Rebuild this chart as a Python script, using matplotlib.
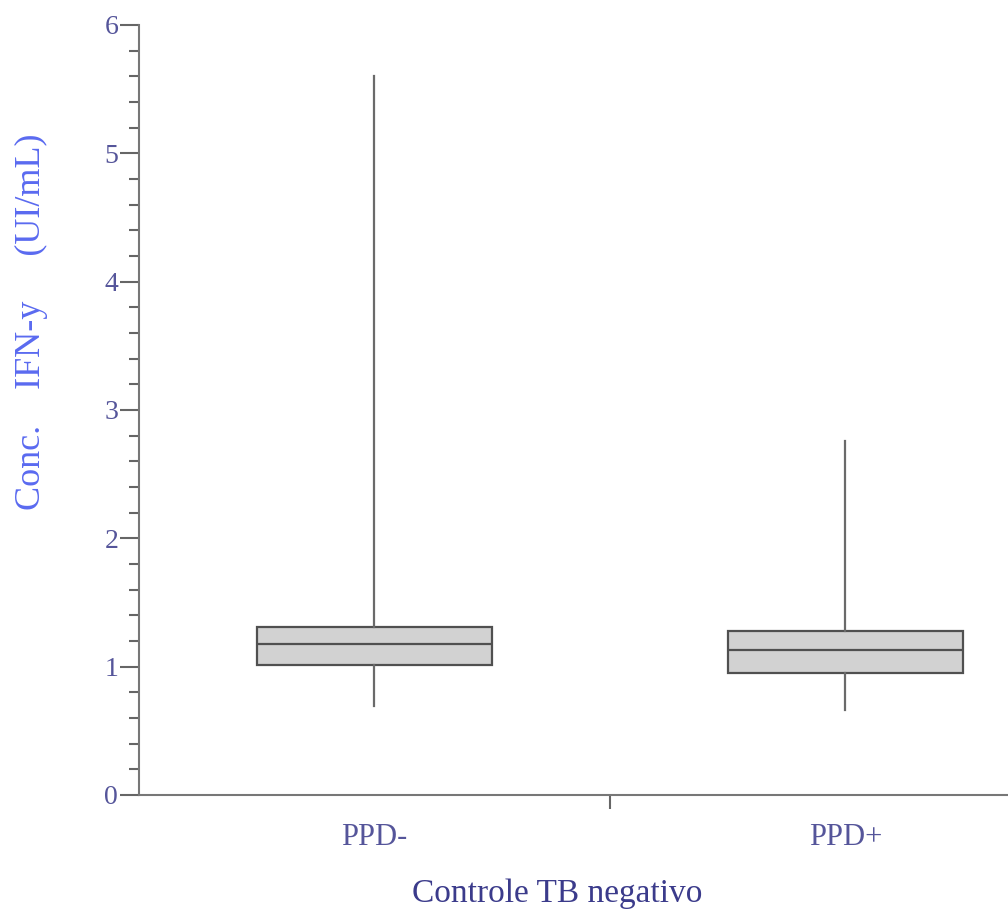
# Boxplot de concentración IFN-y, controle TB negativo
import matplotlib
matplotlib.use('Agg')
import matplotlib.pyplot as plt
from matplotlib.ticker import MultipleLocator, FixedLocator

# Datos
grupos = ['PPD-', 'PPD+']
bigote_bajo = [0.69, 0.66]
q1 = [1.01, 0.95]
mediana = [1.18, 1.13]
q3 = [1.31, 1.28]
bigote_alto = [5.60, 2.76]

plt.rcParams['font.family'] = ['Liberation Serif', 'DejaVu Serif']

fig = plt.figure(figsize=(10.08, 9.14), dpi=100)
ax = fig.add_axes([0.1379, 0.1302, 0.9345, 0.8425])

stats = []
for i in range(len(grupos)):
    stats.append({'whislo': bigote_bajo[i], 'q1': q1[i], 'med': mediana[i],
                  'q3': q3[i], 'whishi': bigote_alto[i], 'label': grupos[i]})

ax.bxp(stats, positions=[1, 2], widths=0.5, showcaps=False, showfliers=False,
       patch_artist=True,
       boxprops=dict(facecolor='#d2d2d2', edgecolor='#505050', linewidth=1.6),
       medianprops=dict(color='#505050', linewidth=1.6),
       whiskerprops=dict(color='#6a6a6a', linewidth=1.6))

ax.set_xlim(0.5, 2.5)
ax.set_ylim(0, 6)

# Ejes
for lado in ['top', 'right']:
    ax.spines[lado].set_visible(False)
for lado in ['left', 'bottom']:
    ax.spines[lado].set_color('#777777')
    ax.spines[lado].set_linewidth(1.5)

ax.yaxis.set_major_locator(MultipleLocator(1))
ax.yaxis.set_minor_locator(MultipleLocator(0.2))
ax.tick_params(axis='y', which='major', length=14, width=1.5, color='#666666',
               labelsize=20, labelcolor='#55559a', pad=1)
ax.tick_params(axis='y', which='minor', length=7, width=1.5, color='#666666')

ax.xaxis.set_major_locator(FixedLocator([1.5]))
ax.xaxis.set_minor_locator(FixedLocator([1, 2]))
ax.set_xticklabels([''])
ax.set_xticklabels(grupos, minor=True)
ax.tick_params(axis='x', which='major', direction='out', length=10, width=1.5, color='#666666')
ax.tick_params(axis='x', which='minor', length=0, labelsize=22, labelcolor='#55559a', pad=20)

ax.set_xlabel('Controle TB negativo', fontsize=24, color='#3b3b8b')
ax.xaxis.set_label_coords(0.4437, -0.108)
ax.set_ylabel('Conc.    IFN-y     (UI/mL)', fontsize=26, color='#5a6af0')
ax.yaxis.set_label_coords(-0.097, 0.614)

fig.savefig('out.png', dpi=100)
